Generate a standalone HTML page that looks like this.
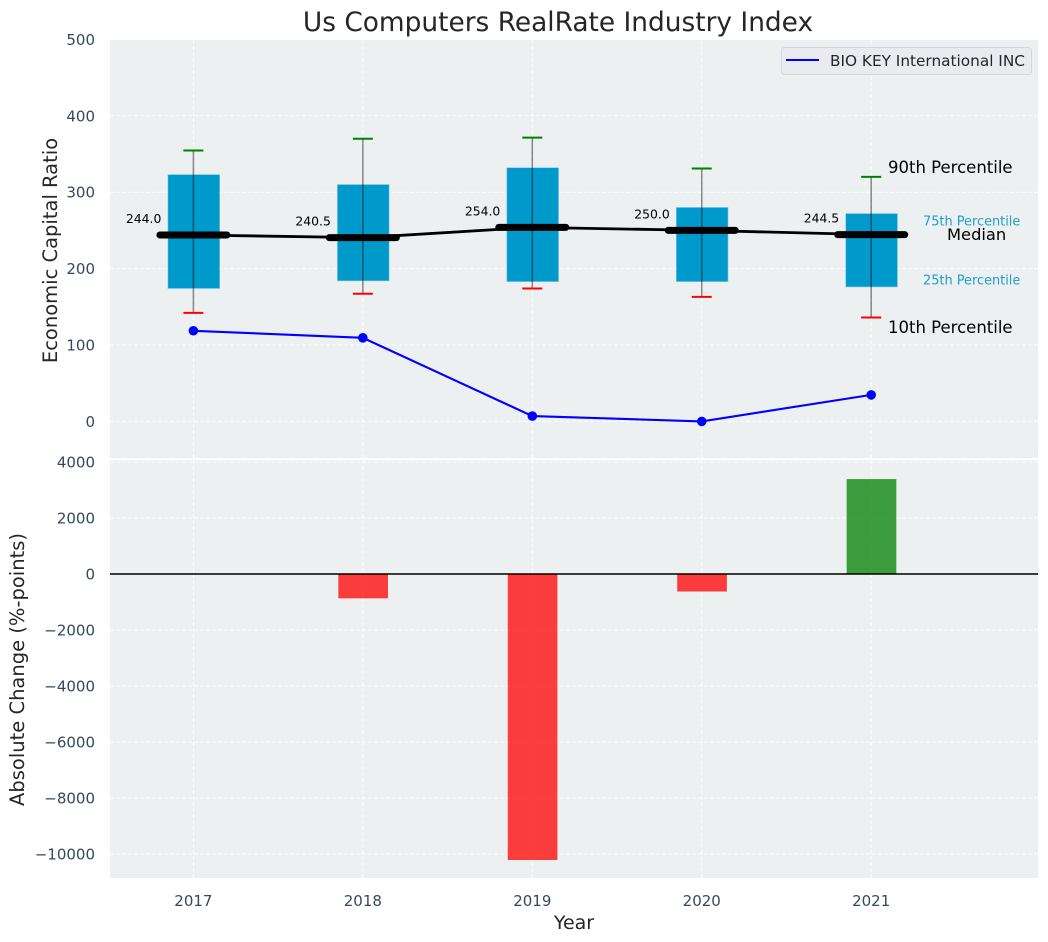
<!DOCTYPE html>
<html>
<head>
<meta charset="utf-8">
<title>Us Computers RealRate Industry Index</title>
<style>
html,body{margin:0;padding:0;background:#fff;}
svg{display:block;font-family:"DejaVu Sans","Liberation Sans",sans-serif;}
</style>
</head>
<body>
<svg id="chart" xmlns="http://www.w3.org/2000/svg" width="1048" height="942" viewBox="0 0 1048 942"></svg>
<script>
const years = [2017, 2018, 2019, 2020, 2021];
const p90 = [354.5, 370, 371.5, 331, 320];
const p75 = [323, 310, 332, 280, 272];
const median = [244.0, 240.5, 254.0, 250.0, 244.5];
const p25 = [174, 184, 183, 183, 176];
const p10 = [142, 167, 174, 163, 136];
const company = [118.6, 109.4, 7, 0, 34.7];
const change = [0, -870, -10214, -625, 3390];
const topTicks = [0, 100, 200, 300, 400, 500];
const bottomTicks = [-10000, -8000, -6000, -4000, -2000, 0, 2000, 4000];

const svg = document.getElementById('chart');
const NS = 'http://www.w3.org/2000/svg';
const PLOT_L = 110, PLOT_R = 1038;
const x = v => 193.4 + (v - 2017) * 169.45;
const yTop = v => 421.4 - v * 0.764;
const yBot = v => 574 - v * 0.028;
const widthX = w => w * 169.45;

function make(tag, props, text) {
  const el = document.createElementNS(NS, tag);
  for (const k in props) el.setAttribute(k, props[k]);
  if (text !== undefined) el.textContent = text;
  svg.appendChild(el);
  return el;
}
const GRID = {stroke: '#ffffff', 'stroke-width': 1, 'stroke-opacity': 0.85, 'stroke-dasharray': '4 2'};
const TICK_FILL = '#34495e';
const TICK_SIZE = 15;

let el;
el = make('rect', {x: PLOT_L, y: 40, width: PLOT_R - PLOT_L, height: 418, fill: '#ecf0f1'});


el = make('rect', {x: PLOT_L, y: 460, width: PLOT_R - PLOT_L, height: 418, fill: '#ecf0f1'});



topTicks.forEach(t => {
  el = make('line', Object.assign({x1: PLOT_L, x2: PLOT_R, y1: yTop(t), y2: yTop(t)}, GRID));
  
  
  el = make('text', {x: 95, y: yTop(t) + 5.5, 'text-anchor': 'end', 'font-size': TICK_SIZE, fill: TICK_FILL}, String(t));
  
  
});
bottomTicks.forEach(t => {
  el = make('line', Object.assign({x1: PLOT_L, x2: PLOT_R, y1: yBot(t), y2: yBot(t)}, GRID));
  
  
  el = make('text', {x: 95, y: yBot(t) + 5.5, 'text-anchor': 'end', 'font-size': TICK_SIZE, fill: TICK_FILL}, String(t).replace('-', '\u2212'));
  
  
});
years.forEach(yr => {
  el = make('line', Object.assign({x1: x(yr), x2: x(yr), y1: 40, y2: 458}, GRID));
  
  
  el = make('line', Object.assign({x1: x(yr), x2: x(yr), y1: 460, y2: 878}, GRID));
  
  
  el = make('text', {x: x(yr), y: 906, 'text-anchor': 'middle', 'font-size': TICK_SIZE, fill: TICK_FILL}, String(yr));
  
  
});

// Percentile boxes
years.forEach((yr, i) => {
  const w = widthX(0.305);
  el = make('rect', {x: x(yr) - w / 2 + 0.4, y: yTop(p75[i]), width: w, height: yTop(p25[i]) - yTop(p75[i]), fill: '#0099cc', stroke: '#7cc6e0', 'stroke-width': 0.6});
  
  
});

// Median connecting line
el = make('polyline', {points: years.map((yr, i) => x(yr) + ',' + yTop(median[i])).join(' '), fill: 'none', stroke: '#000', 'stroke-width': 2.8});



years.forEach((yr, i) => {
  el = make('line', {x1: x(yr), x2: x(yr), y1: yTop(p10[i]), y2: yTop(p90[i]), stroke: '#000', 'stroke-opacity': 0.45, 'stroke-width': 1.5});
  
  
  el = make('line', {x1: x(yr) - 10, x2: x(yr) + 10, y1: yTop(p90[i]), y2: yTop(p90[i]), stroke: '#008000', 'stroke-width': 2});
  
  
  el = make('line', {x1: x(yr) - 10, x2: x(yr) + 10, y1: yTop(p10[i]), y2: yTop(p10[i]), stroke: '#ff0000', 'stroke-width': 2});
  
  
  el = make('line', {x1: x(yr) - 33.5, x2: x(yr) + 33.5, y1: yTop(median[i]), y2: yTop(median[i]), stroke: '#000', 'stroke-width': 7, 'stroke-linecap': 'round'});
  
  
  el = make('text', {x: x(yr) - 32, y: yTop(median[i]) - 12, 'text-anchor': 'end', 'font-size': 12.4, fill: '#000'}, median[i].toFixed(1));
  
  
});

// Company series
el = make('polyline', {points: years.map((yr, i) => x(yr) + ',' + yTop(company[i])).join(' '), fill: 'none', stroke: '#0000ff', 'stroke-width': 2.1});


years.forEach((yr, i) => {
  el = make('circle', {cx: x(yr), cy: yTop(company[i]), r: 4.8, fill: '#0000ff'});
  
  
});

// Change bars
years.forEach((yr, i) => {
  const w = widthX(0.293);
  const top = Math.min(yBot(change[i]), yBot(0));
  const h = Math.abs(yBot(change[i]) - yBot(0));
  el = make('rect', {x: x(yr) - w / 2 + 0.3, y: top, width: w, height: h, fill: change[i] >= 0 ? '#008000' : '#ff0000', 'fill-opacity': 0.75});
  
  
});
el = make('line', {x1: PLOT_L, x2: PLOT_R, y1: yBot(0), y2: yBot(0), stroke: '#000', 'stroke-width': 1.6});



// Percentile annotations
el = make('text', {x: 888, y: 173, 'font-size': 16.5, fill: '#000'}, '90th Percentile');


el = make('text', {x: 923, y: 225.5, 'font-size': 12.9, fill: '#1f9fcc'}, '75th Percentile');


el = make('text', {x: 947, y: 240, 'font-size': 16.3, fill: '#000'}, 'Median');


el = make('text', {x: 923, y: 284.5, 'font-size': 12.9, fill: '#1f9fcc'}, '25th Percentile');


el = make('text', {x: 888, y: 333, 'font-size': 16.5, fill: '#000'}, '10th Percentile');



// Legend
el = make('rect', {x: 781.5, y: 47.5, width: 250, height: 27, rx: 3, fill: '#e9ebf0', stroke: '#d4d7db', 'stroke-width': 1});


el = make('line', {x1: 786, x2: 819, y1: 60, y2: 60, stroke: '#0000ff', 'stroke-width': 2.1});


el = make('text', {x: 830, y: 66, 'font-size': 15.3, fill: '#262626'}, 'BIO KEY International INC');



// Titles
el = make('text', {x: 558, y: 31, 'text-anchor': 'middle', 'font-size': 26.4, fill: '#262626'}, 'Us Computers RealRate Industry Index');


el = make('text', {x: 574, y: 929, 'text-anchor': 'middle', 'font-size': 19, fill: '#262626'}, 'Year');


el = make('text', {transform: 'translate(57,250.5) rotate(-90)', 'text-anchor': 'middle', 'font-size': 19.5, fill: '#262626'}, 'Economic Capital Ratio');


el = make('text', {transform: 'translate(24,669.5) rotate(-90)', 'text-anchor': 'middle', 'font-size': 19.5, fill: '#262626'}, 'Absolute Change (%-points)');


</script>
</body>
</html>
